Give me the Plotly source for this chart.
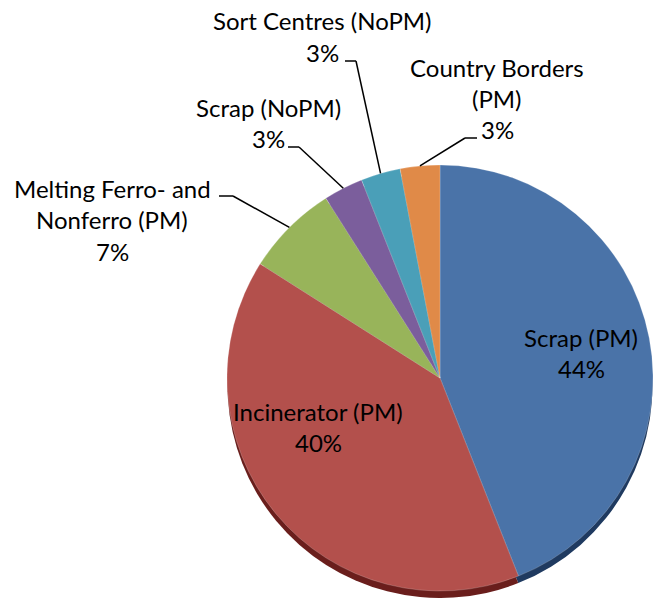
import math
import plotly.graph_objects as go

# ---- data ----
categories = ["Scrap (PM)", "Incinerator (PM)", "Melting Ferro- and Nonferro (PM)",
              "Scrap (NoPM)", "Sort Centres (NoPM)", "Country Borders (PM)"]
values = [44, 40, 7, 3, 3, 3]
label_lines = [["Scrap (PM)", "44%"],
               ["Incinerator (PM)", "40%"],
               ["Melting Ferro- and", "Nonferro (PM)", "7%"],
               ["Scrap (NoPM)", "3%"],
               ["Sort Centres (NoPM)", "3%"],
               ["Country Borders", "(PM)", "3%"]]

# ---- styling / layout constants ----
W, H = 657, 598
colors = ["#4A73A8", "#B3504C", "#98B45A", "#7B5E9C", "#4A9FB8", "#E08A48"]
edge_colors = ["#1F3A60", "#6A1E1C", "#4F6128", "#3F3151", "#215968", "#984807"]
CX, CY, R = 440, 378, 213     # pie centre / radius in screen pixels
DEPTH = 8                     # pseudo 3D thickness
FONT = "Lato"
FS = 24
LINE_H = 31.5

# label first-line centres (px) and leader connector points (px)
label_pos = [(581, 337), (318, 411), (112, 188), (268, 107), (322, 21), (497, 67)]
connectors = {2: [(219, 196), (233, 196)],
              3: [(288, 147), (299, 147)],
              4: [(345, 61), (356, 61)],
              5: [(477, 138), (465, 138)]}


def px(x):
    return x / W


def py(y):
    return 1 - y / H


def dom(cx, cy, r):
    return dict(x=[max(0, px(cx - r)), min(1, px(cx + r))], y=[max(0, py(cy + r)), min(1, py(cy - r))])


fig = go.Figure()
# darker under-layer for the 3D edge
fig.add_trace(go.Pie(labels=categories, values=values, sort=False, direction="clockwise",
                     rotation=0, marker=dict(colors=edge_colors, line=dict(width=0)),
                     textinfo="none", hoverinfo="skip", showlegend=False,
                     domain=dom(CX, CY + DEPTH, R)))
fig.add_trace(go.Pie(labels=categories, values=values, sort=False, direction="clockwise",
                     rotation=0, marker=dict(colors=colors, line=dict(width=0.5, color="rgba(255,255,255,0.4)")),
                     textinfo="none", showlegend=False,
                     domain=dom(CX, CY, R)))

annotations = []
for i, lines in enumerate(label_lines):
    x0, y0 = label_pos[i]
    for j, t in enumerate(lines):
        annotations.append(dict(x=px(x0), y=py(y0 + j * LINE_H), xref="paper", yref="paper",
                                text=t, showarrow=False, xanchor="center", yanchor="middle",
                                font=dict(family=FONT, size=FS, color="#000000")))

shapes = []
total = sum(values)
cum = 0
for i, v in enumerate(values):
    mid = (cum + v / 2) / total * 2 * math.pi
    cum += v
    if i in connectors:
        ex = CX + R * math.sin(mid)
        ey = CY - R * math.cos(mid)
        pts = connectors[i] + [(ex, ey)]
        for (a, b), (c, d) in zip(pts[:-1], pts[1:]):
            shapes.append(dict(type="line", xref="paper", yref="paper",
                               x0=px(a), y0=py(b), x1=px(c), y1=py(d),
                               line=dict(color="#000000", width=1.5)))

fig.update_layout(width=W, height=H, margin=dict(l=0, r=0, t=0, b=0),
                  paper_bgcolor="white", plot_bgcolor="white",
                  annotations=annotations, shapes=shapes, showlegend=False)
fig.write_html("out.html", config={"displayModeBar": False},
               post_script="document.body.style.margin='0px';")
